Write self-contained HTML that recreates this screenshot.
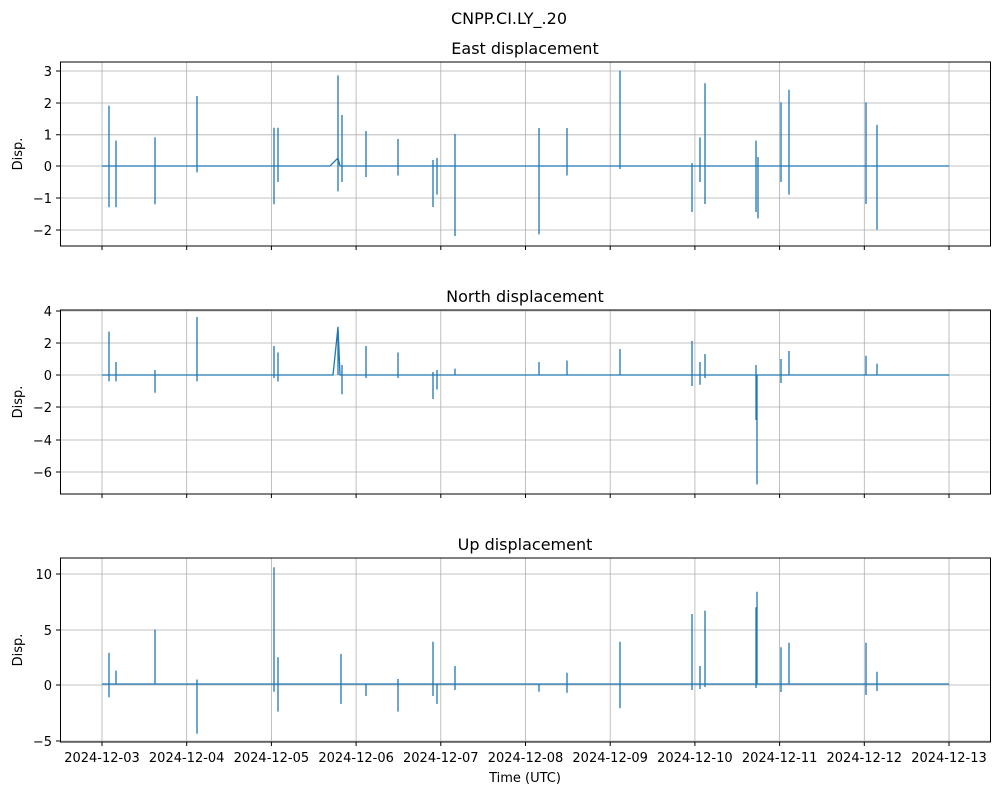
<!DOCTYPE html><html><head><meta charset="utf-8"><style>body{margin:0;background:#fff}svg{display:block}text{font-family:"DejaVu Sans","Liberation Sans",sans-serif;fill:#000}</style></head><body>
<svg width="999" height="795" xmlns="http://www.w3.org/2000/svg">
<defs>
<g id="vg" stroke="#b0b0b0" stroke-width="0.8"><path d="M102 0V184M186.7 0V184M271.4 0V184M356.1 0V184M440.8 0V184M525.5 0V184M610.2 0V184M694.9 0V184M779.6 0V184M864.3 0V184M949 0V184"/></g>
</defs>
<text x="509" y="24" font-size="16" text-anchor="middle">CNPP.CI.LY_.20</text>
<!-- top -->
<text x="525" y="54" font-size="16" text-anchor="middle">East displacement</text>
<use href="#vg" transform="translate(0,62)"/>
<g stroke="#b0b0b0" stroke-width="0.8"><path d="M61 71H991M61 103H991M61 134.8H991M61 166H991M61 198H991M61 230H991"/></g>
<g stroke="#1f77b4" stroke-width="1.3" fill="none"><path d="M102 166H330L338 158L340 166H949M109 166V105.6V207.3M116 166V140.6V207.3M155 166V137.4V204.2M197 166V96V172.4M274 166V127.8V204.2M278 166V127.8V182M338 158V75.4V191.4M342 166V115V182M366 166V131V177M398 166V139V175.5M433 166V160V207M437 166V158V194.6M455 166V134V236M539 166V128V234.4M567 166V128V175.5M620 166V70.6V169M692 166V163V212M700 166V137.4V182M705 166V83.3V204M756 166V140.6V212M758 166V157V218.5M781 166V102.4V182M789 166V89.7V194.6M866 166V102.4V204M877 166V124.7V229.6"/></g>
<rect x="60.5" y="62" width="930" height="184" fill="none" stroke="#000" stroke-width="1"/>
<g stroke="#000"><path d="M56 71H61M56 103H61M56 134.8H61M56 166H61M56 198H61M56 230H61M102 246V250M186.7 246V250M271.4 246V250M356.1 246V250M440.8 246V250M525.5 246V250M610.2 246V250M694.9 246V250M779.6 246V250M864.3 246V250M949 246V250"/></g>
<g font-size="13" text-anchor="end"><text x="52" y="76">3</text><text x="52" y="108">2</text><text x="52" y="139.5">1</text><text x="52" y="171">0</text><text x="52" y="203">−1</text><text x="52" y="235">−2</text></g>
<text transform="translate(22,154) rotate(-90)" font-size="13" text-anchor="middle">Disp.</text>
<!-- middle -->
<text x="525" y="302" font-size="16" text-anchor="middle">North displacement</text>
<use href="#vg" transform="translate(0,310)"/>
<g stroke="#b0b0b0" stroke-width="0.8"><path d="M61 311H991M61 343H991M61 375H991M61 407H991M61 440H991M61 472H991"/></g>
<g stroke="#1f77b4" stroke-width="1.3" fill="none"><path d="M102 375H333L338 327L340 375H949M109 375V331.5V381.4M116 375V362V381.4M155 375V370V392.7M197 375V317V381.4M274 375V346V378M278 375V352.5V381.4M338 375V326.7M342 375V365V394.3M366 375V346V378M398 375V352.5V378M433 375V372V399M437 375V370V389.5M455 375V368.6M539 375V362M567 375V360.5M620 375V349M692 375V341V386M700 375V362V384.7M705 375V354V378M756 375V365V420M757 375V484.5M781 375V359V383M789 375V351M866 375V355.7M877 375V363.7"/></g>
<rect x="60.5" y="310" width="930" height="184" fill="none" stroke="#000" stroke-width="1"/>
<g stroke="#000"><path d="M56 311H61M56 343H61M56 375H61M56 407H61M56 440H61M56 472H61M102 494V498M186.7 494V498M271.4 494V498M356.1 494V498M440.8 494V498M525.5 494V498M610.2 494V498M694.9 494V498M779.6 494V498M864.3 494V498M949 494V498"/></g>
<g font-size="13" text-anchor="end"><text x="52" y="316">4</text><text x="52" y="348">2</text><text x="52" y="380">0</text><text x="52" y="412">−2</text><text x="52" y="445">−4</text><text x="52" y="477">−6</text></g>
<text transform="translate(22,402) rotate(-90)" font-size="13" text-anchor="middle">Disp.</text>
<!-- bottom -->
<text x="525" y="550" font-size="16" text-anchor="middle">Up displacement</text>
<use href="#vg" transform="translate(0,558)"/>
<g stroke="#b0b0b0" stroke-width="0.8"><path d="M61 574H991M61 630H991M61 685H991M61 741H991"/></g>
<g stroke="#1f77b4" stroke-width="1.3" fill="none"><path d="M102 684H949M109 684V652.8V697.2M116 684V670.6M155 684V629.5M197 684V679.5V733.8M274 684V567.3V691.7M278 684V657.3V711.6M341 684V654V703.9M366 684V696M398 684V679V711.6M433 684V641.7V696M437 684V703.9M455 684V666V690M539 684V691.7M567 684V672.8V692.8M620 684V641.7V708.3M692 684V614V690M700 684V666V689M705 684V610.6V687M756 684V607.3V688M757 684V591.8M781 684V647.3V692M789 684V642.8M866 684V642.8V695M877 684V671.7V691"/></g>
<rect x="60.5" y="558" width="930" height="184" fill="none" stroke="#000" stroke-width="1"/>
<g stroke="#000"><path d="M56 574H61M56 630H61M56 685H61M56 741H61M102 742V746M186.7 742V746M271.4 742V746M356.1 742V746M440.8 742V746M525.5 742V746M610.2 742V746M694.9 742V746M779.6 742V746M864.3 742V746M949 742V746"/></g>
<g font-size="13" text-anchor="end"><text x="52" y="579">10</text><text x="52" y="635">5</text><text x="52" y="690">0</text><text x="52" y="746">−5</text></g>
<text transform="translate(22,650) rotate(-90)" font-size="13" text-anchor="middle">Disp.</text>
<g font-size="13" text-anchor="middle"><text x="102" y="762">2024-12-03</text><text x="186.7" y="762">2024-12-04</text><text x="271.4" y="762">2024-12-05</text><text x="356.1" y="762">2024-12-06</text><text x="440.8" y="762">2024-12-07</text><text x="525.5" y="762">2024-12-08</text><text x="610.2" y="762">2024-12-09</text><text x="694.9" y="762">2024-12-10</text><text x="779.6" y="762">2024-12-11</text><text x="864.3" y="762">2024-12-12</text><text x="949" y="762">2024-12-13</text></g>
<text x="525" y="782" font-size="13" text-anchor="middle">Time (UTC)</text>
</svg></body></html>
